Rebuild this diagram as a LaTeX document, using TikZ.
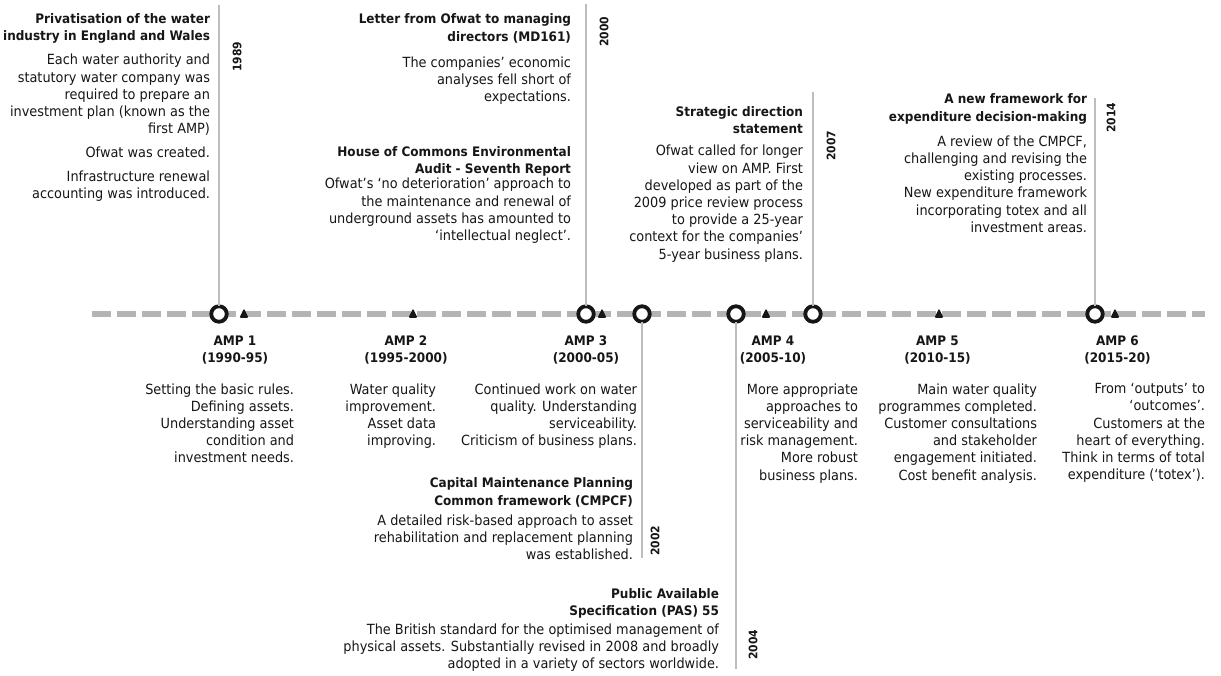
\documentclass[tikz,border=0pt]{standalone}
\usepackage{fontspec}
\setmainfont{DejaVu Sans}[FakeStretch=0.92]
\definecolor{txt}{HTML}{161616}
\definecolor{vline}{HTML}{BDBDBD}
\definecolor{dashgray}{HTML}{B4B4B4}
\newcommand\ttl[1]{{\fontsize{13.1}{17.2}\selectfont\bfseries #1}}
\tikzset{
  every node/.style={inner sep=0pt, outer sep=0pt, text=txt},
  body/.style={align=right, anchor=north east, font=\fontsize{14}{17.2}\selectfont},
  amplabel/.style={align=center, anchor=north, font=\bfseries\fontsize{13.1}{17.2}\selectfont},
  year/.style={rotate=90, font=\bfseries\fontsize{11.7}{14}\selectfont},
  ring/.style={circle, draw=txt, line width=3.8pt, fill=white, minimum size=15.5pt},
  yearline/.style={draw=vline, line width=1.4pt},
  timeline/.style={draw=dashgray, line width=5.6pt, dash pattern=on 19pt off 6pt},
  marker/.style={fill=txt, rounded corners=1.4pt}
}
\begin{document}
\begin{tikzpicture}[x=1pt, y=-1pt]
\useasboundingbox (0,0) rectangle (1221,676);
% timeline
\coordinate (tl0) at (92,314);
\coordinate (tl1) at (1205,314);
\draw[timeline] (tl0) -- (tl1);
% event rings
\node[ring] (c1989) at (219,314) {};
\node[ring] (c2000) at (586,314) {};
\node[ring] (c2002) at (642,314) {};
\node[ring] (c2004) at (736,314) {};
\node[ring] (c2007) at (813,314) {};
\node[ring] (c2014) at (1095,314) {};
% vertical year lines
\coordinate (e1989) at (219,5);
\coordinate (e2000) at (586,4);
\coordinate (e2007) at (813,92);
\coordinate (e2014) at (1095,98);
\coordinate (e2002) at (642,558);
\coordinate (e2004) at (736,669);
\draw[yearline] (c1989.north) -- (e1989);
\draw[yearline] (c2000.north) -- (e2000);
\draw[yearline] (c2007.north) -- (e2007);
\draw[yearline] (c2014.north) -- (e2014);
\draw[yearline] (c2002.south) -- (e2002);
\draw[yearline] (c2004.south) -- (e2004);
% AMP markers
\coordinate (m1) at (244,314);
\coordinate (m2) at (413,314);
\coordinate (m3) at (602,314);
\coordinate (m4) at (766,314);
\coordinate (m5) at (939,314);
\coordinate (m6) at (1115,314);
\foreach \m in {m1,m2,m3,m4,m5,m6}
  \fill[marker] (\m) ++(-4.6,4) -- ++(9.2,0) -- ++(-4.6,-9.6) -- cycle;
% years
\node[year] (y1989) at (237,57) {1989};
\node[year] (y2000) at (604,32) {2000};
\node[year] (y2007) at (831,146) {2007};
\node[year] (y2014) at (1111,118) {2014};
\node[year] (y2002) at (655,541) {2002};
\node[year] (y2004) at (753,645) {2004};
% top texts
\node[body] (t1989) at (210,13.5) {\ttl{Privatisation of the water}\\
\ttl{industry in England and Wales}\\[7pt]
Each water authority and\\
statutory water company was\\
required to prepare an\\
investment plan (known as the\\
first AMP)\\[7pt]
Ofwat was created.\\[6pt]
Infrastructure renewal\\
accounting was introduced.};
\node[body] (t2000) at (571,14) {\ttl{Letter from Ofwat to managing}\\
\ttl{directors (MD161)}\\[9pt]
The companies’ economic\\
analyses fell short of\\
expectations.};
\node[body] (t2000b) at (571,146.5) {\ttl{House of Commons Environmental}\\
\ttl{Audit - Seventh Report}\\[-2pt]
Ofwat’s ‘no deterioration’ approach to\\
the maintenance and renewal of\\
underground assets has amounted to\\
‘intellectual neglect’.};
\node[body] (t2007) at (803,106.5) {\ttl{Strategic direction}\\
\ttl{statement}\\[5pt]
Ofwat called for longer\\
view on AMP. First\\
developed as part of the\\
2009 price review process\\
to provide a 25-year\\
context for the companies’\\
5-year business plans.};
\node[body] (t2014) at (1087,94) {\ttl{A new framework for}\\
\ttl{expenditure decision-making}\\[8pt]
A review of the CMPCF,\\
challenging and revising the\\
existing processes.\\
New expenditure framework\\
incorporating totex and all\\
investment areas.};
% bottom event texts
\node[body] (t2002) at (633,478) {\ttl{Capital Maintenance Planning}\\
\ttl{Common framework (CMPCF)}\\[3pt]
A detailed risk-based approach to asset\\
rehabilitation and replacement planning\\
was established.};
\node[body] (t2004) at (719,588.5) {\ttl{Public Available}\\
\ttl{Specification (PAS) 55}\\[1.5pt]
The British standard for the optimised management of\\
physical assets. Substantially revised in 2008 and broadly\\
adopted in a variety of sectors worldwide.};
% AMP labels
\node[amplabel] (a1) at (235,336) {AMP 1\\(1990-95)};
\node[amplabel] (a2) at (406,336) {AMP 2\\(1995-2000)};
\node[amplabel] (a3) at (586,336) {AMP 3\\(2000-05)};
\node[amplabel] (a4) at (773,336) {AMP 4\\(2005-10)};
\node[amplabel] (a5) at (937.5,336) {AMP 5\\(2010-15)};
\node[amplabel] (a6) at (1117.5,336) {AMP 6\\(2015-20)};
% AMP bodies
\node[body] (b1) at (294,383.5) {Setting the basic rules.\\
Defining assets.\\
Understanding asset\\
condition and\\
investment needs.};
\node[body] (b2) at (436,383.5) {Water quality\\
improvement.\\
Asset data\\
improving.};
\node[body] (b3) at (637,383.5) {Continued work on water\\
quality. Understanding\\
serviceability.\\
Criticism of business plans.};
\node[body] (b4) at (858,383.5) {More appropriate\\
approaches to\\
serviceability and\\
risk management.\\
More robust\\
business plans.};
\node[body] (b5) at (1037,383.5) {Main water quality\\
programmes completed.\\
Customer consultations\\
and stakeholder\\
engagement initiated.\\
Cost benefit analysis.};
\node[body] (b6) at (1205,383.5) {From ‘outputs’ to\\
‘outcomes’.\\
Customers at the\\
heart of everything.\\
Think in terms of total\\
expenditure (‘totex’).};
\end{tikzpicture}
\end{document}
